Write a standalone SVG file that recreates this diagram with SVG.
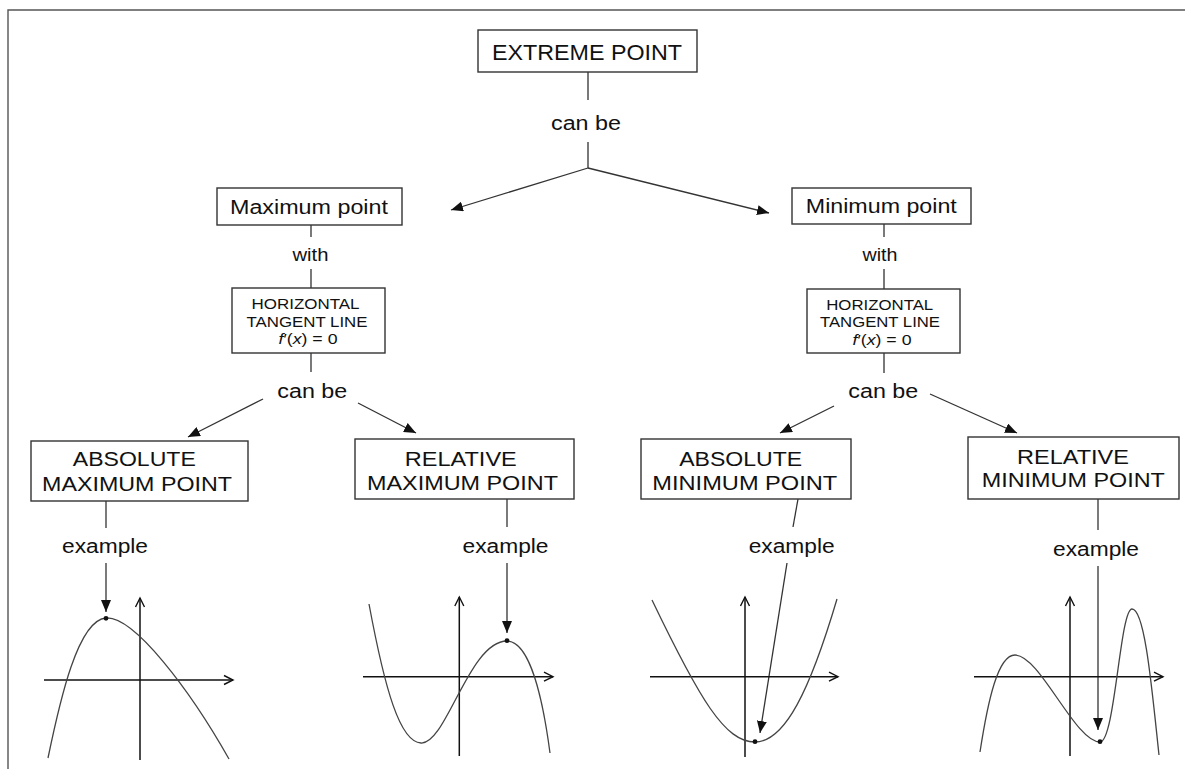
<svg xmlns="http://www.w3.org/2000/svg" width="1185" height="769" viewBox="0 0 1185 769">
<style>
.box{fill:#fff;stroke:#333;stroke-width:1.4}
.t{font-family:"Liberation Sans",Arial,sans-serif;fill:#111;text-anchor:middle}
.c{stroke:#333;stroke-width:1.3;fill:none}
.ax{stroke:#111;stroke-width:1.5;fill:none}
.cv{stroke:#444;stroke-width:1.3;fill:none}
.frame{stroke:#555;stroke-width:1.4;fill:none}
</style>
<defs>
<marker id="ah" markerUnits="userSpaceOnUse" markerWidth="14" markerHeight="10" refX="12" refY="5" orient="auto">
<path d="M0,0 L12,5 L0,10 Z" fill="#111"/>
</marker>
<marker id="oh" markerUnits="userSpaceOnUse" markerWidth="12" markerHeight="12" refX="10" refY="6" orient="auto">
<path d="M1,1.5 L10,6 L1,10.5" fill="none" stroke="#111" stroke-width="1.4"/>
</marker>
</defs>
<rect width="1185" height="769" fill="#fff"/>
<path class="frame" d="M8,769 V10 H1185"/>

<g id="connectors">
<path class="c" d="M588,72 V100 M588,142 V168"/>
<path class="c" d="M588,168 L451,210" marker-end="url(#ah)"/>
<path class="c" d="M588,168 L769,213" marker-end="url(#ah)"/>
<path class="c" d="M311,225 V237 M311,269 V288 M311,353 V372"/>
<path class="c" d="M263,399 L188,437" marker-end="url(#ah)"/>
<path class="c" d="M358,403 L416,433" marker-end="url(#ah)"/>
<path class="c" d="M884,224 V237 M884,269 V289 M884,353 V373"/>
<path class="c" d="M834,406 L780,433" marker-end="url(#ah)"/>
<path class="c" d="M930,394 L1017,433" marker-end="url(#ah)"/>
<path class="c" d="M106,501 V528"/>
<path class="c" d="M106,563 V612" marker-end="url(#ah)"/>
<path class="c" d="M507,499 V527"/>
<path class="c" d="M507,563 V633" marker-end="url(#ah)"/>
<path class="c" d="M798,499 L793,527"/>
<path class="c" d="M787,563 L760,733" marker-end="url(#ah)"/>
<path class="c" d="M1098,499 V530"/>
<path class="c" d="M1098,566 V730" marker-end="url(#ah)"/>
</g>

<g id="extreme">
<rect class="box" x="478" y="30" width="219" height="42"/>
<text class="t" x="587" y="59.5" font-size="22" textLength="190" lengthAdjust="spacingAndGlyphs">EXTREME POINT</text>
</g>
<g id="canbe-top"><text class="t" x="586" y="130" font-size="20" textLength="70" lengthAdjust="spacingAndGlyphs">can be</text></g>

<g id="max-point">
<rect class="box" x="217" y="188" width="185" height="37"/>
<text class="t" x="309" y="214" font-size="20" textLength="158" lengthAdjust="spacingAndGlyphs">Maximum point</text>
</g>
<g id="with-max"><text class="t" x="310.5" y="261" font-size="19" textLength="36" lengthAdjust="spacingAndGlyphs">with</text></g>
<g id="tangent-max">
<rect class="box" x="232" y="288" width="153" height="65"/>
<text class="t" x="305.5" y="309" font-size="14.5" textLength="108" lengthAdjust="spacingAndGlyphs">HORIZONTAL</text>
<text class="t" x="307" y="326.7" font-size="14.5" textLength="121" lengthAdjust="spacingAndGlyphs">TANGENT LINE</text>
<text class="t" x="308" y="344.3" font-size="14.5" textLength="59" lengthAdjust="spacingAndGlyphs"><tspan font-style="italic">f</tspan>′(<tspan font-style="italic">x</tspan>) = 0</text>
</g>
<g id="canbe-max"><text class="t" x="312.3" y="398.3" font-size="20" textLength="70" lengthAdjust="spacingAndGlyphs">can be</text></g>

<g id="min-point">
<rect class="box" x="792" y="188" width="179" height="36"/>
<text class="t" x="881.3" y="213.3" font-size="20" textLength="151" lengthAdjust="spacingAndGlyphs">Minimum point</text>
</g>
<g id="with-min"><text class="t" x="880" y="261" font-size="19" textLength="35" lengthAdjust="spacingAndGlyphs">with</text></g>
<g id="tangent-min">
<rect class="box" x="807" y="289" width="153" height="64"/>
<text class="t" x="879.7" y="309.7" font-size="14.5" textLength="107" lengthAdjust="spacingAndGlyphs">HORIZONTAL</text>
<text class="t" x="880" y="327.3" font-size="14.5" textLength="120" lengthAdjust="spacingAndGlyphs">TANGENT LINE</text>
<text class="t" x="882" y="345" font-size="14.5" textLength="59" lengthAdjust="spacingAndGlyphs"><tspan font-style="italic">f</tspan>′(<tspan font-style="italic">x</tspan>) = 0</text>
</g>
<g id="canbe-min"><text class="t" x="883.3" y="398.3" font-size="20" textLength="70" lengthAdjust="spacingAndGlyphs">can be</text></g>

<g id="abs-max">
<rect class="box" x="31" y="441" width="217" height="60"/>
<text class="t" x="134.3" y="465.7" font-size="20" textLength="123" lengthAdjust="spacingAndGlyphs">ABSOLUTE</text>
<text class="t" x="137" y="490.7" font-size="20" textLength="190" lengthAdjust="spacingAndGlyphs">MAXIMUM POINT</text>
</g>
<g id="rel-max">
<rect class="box" x="355" y="439" width="219" height="60"/>
<text class="t" x="460.8" y="465.7" font-size="20" textLength="112" lengthAdjust="spacingAndGlyphs">RELATIVE</text>
<text class="t" x="462.5" y="490" font-size="20" textLength="191" lengthAdjust="spacingAndGlyphs">MAXIMUM POINT</text>
</g>
<g id="abs-min">
<rect class="box" x="641" y="439" width="210" height="60"/>
<text class="t" x="740.7" y="465.7" font-size="20" textLength="123" lengthAdjust="spacingAndGlyphs">ABSOLUTE</text>
<text class="t" x="744.8" y="490" font-size="20" textLength="185" lengthAdjust="spacingAndGlyphs">MINIMUM POINT</text>
</g>
<g id="rel-min">
<rect class="box" x="968" y="437" width="211" height="62"/>
<text class="t" x="1073" y="464" font-size="20" textLength="112" lengthAdjust="spacingAndGlyphs">RELATIVE</text>
<text class="t" x="1073.3" y="487.3" font-size="20" textLength="183" lengthAdjust="spacingAndGlyphs">MINIMUM POINT</text>
</g>

<g id="example-labels">
<text class="t" x="105" y="553" font-size="20" textLength="86" lengthAdjust="spacingAndGlyphs">example</text>
<text class="t" x="505.5" y="553" font-size="20" textLength="86" lengthAdjust="spacingAndGlyphs">example</text>
<text class="t" x="791.7" y="553" font-size="20" textLength="86" lengthAdjust="spacingAndGlyphs">example</text>
<text class="t" x="1096" y="555.7" font-size="20" textLength="86" lengthAdjust="spacingAndGlyphs">example</text>
</g>

<g id="graph-abs-max">
<path class="ax" d="M140,760 V598" marker-end="url(#oh)"/>
<path class="ax" d="M44,680 H233" marker-end="url(#oh)"/>
<path class="cv" d="M48,758 C60,700 78,620 106,618 C134,616 190,690 229,759"/>
<circle cx="106" cy="618.3" r="2.4" fill="#111"/>
</g>
<g id="graph-rel-max">
<path class="ax" d="M459.3,756 V597" marker-end="url(#oh)"/>
<path class="ax" d="M363,676.7 H553" marker-end="url(#oh)"/>
<path class="cv" d="M369,604 C385,690 400,742 421,743 C446,745 469,641 507,641 C530,641 543,700 550,753"/>
<circle cx="507" cy="640.7" r="2.4" fill="#111"/>
</g>
<g id="graph-abs-min">
<path class="ax" d="M745,757 V597" marker-end="url(#oh)"/>
<path class="ax" d="M650,676.7 H838" marker-end="url(#oh)"/>
<path class="cv" d="M652,600 C700,700 725,742 755,742 C785,742 810,690 837,599"/>
<circle cx="755" cy="741.7" r="2.4" fill="#111"/>
</g>
<g id="graph-rel-min">
<path class="ax" d="M1070,756 V597" marker-end="url(#oh)"/>
<path class="ax" d="M974,676.7 H1163" marker-end="url(#oh)"/>
<path class="cv" d="M980,752 C988,700 998,655 1015,655 C1040,655 1075,742 1100,742 C1115,742 1120,609 1132,609 C1145,609 1152,690 1159,755"/>
<circle cx="1100" cy="741.7" r="2.4" fill="#111"/>
</g>
</svg>
